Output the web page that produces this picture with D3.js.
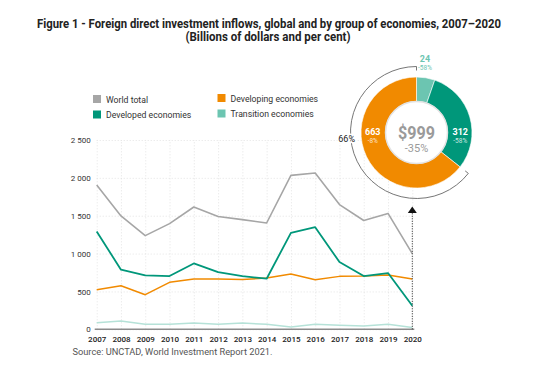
<!DOCTYPE html>
<html lang="en">
<head>
<meta charset="utf-8">
<title>FDI inflows 2007-2020</title>
<script src="https://d3js.org/d3.v7.min.js"></script>
<style>
  body { margin: 0; background: #fff; }
  text { font-family: Roboto, "Liberation Sans", sans-serif; }
</style>
</head>
<body>
<script>
// data (billions of dollars)
var years = [2007, 2008, 2009, 2010, 2011, 2012, 2013, 2014, 2015, 2016, 2017, 2018, 2019, 2020];
var worldTotal = [1906, 1497, 1237, 1396, 1615, 1490, 1449, 1404, 2033, 2065, 1647, 1437, 1530, 999];
var developed  = [1292, 787, 712, 703, 870, 756, 703, 668, 1274, 1349, 888, 703, 743, 312];
var developing = [523, 576, 457, 620, 663, 663, 659, 677, 729, 655, 699, 703, 716, 663];
var transition = [88, 110, 66, 66, 83, 66, 83, 66, 31, 66, 53, 44, 66, 24];
var yTicks = [0, 500, 1000, 1500, 2000, 2500];

// donut for 2020
var donutGroups = ["Transition economies", "Developed economies", "Developing economies"];
var donutValues = [24, 312, 663];
var donutChange = ["-58%", "-58%", "-8%"];
var totalLabel = "$999";
var totalChange = "-35%";
var developingShare = "66%";

var width = 554,
    height = 370;

var colors = {
  world: "#a6a6a6",
  developed: "#00977a",
  developing: "#f18a00",
  transition: "#6cc5b1",
  transitionLine: "#b6e2d8"
};

var svg = d3.select("body").append("svg")
    .attr("width", width)
    .attr("height", height);

// title
svg.append("text")
    .attr("x", 269).attr("y", 27.5)
    .attr("text-anchor", "middle")
    .attr("font-size", 12)
    .attr("font-weight", "bold")
    .attr("fill", "#222")
    .attr("textLength", 464)
    .attr("lengthAdjust", "spacingAndGlyphs")
    .text("Figure 1 - Foreign direct investment inflows, global and by group of economies, 2007\u20132020");
svg.append("text")
    .attr("x", 268).attr("y", 41)
    .attr("text-anchor", "middle")
    .attr("font-size", 12)
    .attr("font-weight", "bold")
    .attr("fill", "#222")
    .attr("textLength", 165)
    .attr("lengthAdjust", "spacingAndGlyphs")
    .text("(Billions of dollars and per cent)");

var x = d3.scaleLinear()
    .domain([2007, 2020])
    .range([96.7, 412.3]);

var y = d3.scaleLinear()
    .domain([0, 2500])
    .range([329.3, 140]);

var fmt = d3.formatLocale({ decimal: ".", thousands: " ", grouping: [3], currency: ["", ""] }).format(",");

// horizontal grid + y labels
var gy = svg.append("g")
    .attr("transform", "translate(" + x(2007) + ",0)")
    .call(d3.axisLeft(y)
      .tickValues(yTicks)
      .tickSize(-(x(2020) - x(2007)))
      .tickPadding(6)
      .tickFormat(fmt));
gy.select(".domain").remove();
gy.selectAll(".tick line")
    .attr("stroke", "#d9d9d9")
    .attr("stroke-width", 0.7)
    .attr("stroke-dasharray", "1,2");
gy.selectAll(".tick text")
    .attr("font-family", "Roboto, sans-serif")
    .attr("font-size", 8)
    .attr("fill", "#333");

// vertical grid + year labels
var gx = svg.append("g")
    .attr("transform", "translate(0," + y(0) + ")")
    .call(d3.axisBottom(x)
      .tickValues(years)
      .tickSize(-(y(0) - y(2500)))
      .tickPadding(7)
      .tickFormat(d3.format("d")));
gx.select(".domain").remove();
gx.selectAll(".tick line")
    .attr("stroke", "#d9d9d9")
    .attr("stroke-width", 0.7)
    .attr("stroke-dasharray", "1,2");
gx.selectAll(".tick text")
    .attr("font-family", "Roboto, sans-serif")
    .attr("font-size", 8)
    .attr("font-weight", "500")
    .attr("fill", "#222");

// zero baseline
svg.append("line")
    .attr("x1", x(2007) - 2).attr("x2", x(2020) + 2)
    .attr("y1", y(0)).attr("y2", y(0))
    .attr("stroke", "#8c8c8c")
    .attr("stroke-width", 1.6);

var line = d3.line()
    .x(function(d, i) { return x(years[i]); })
    .y(function(d) { return y(d); });

var series = [
  { values: transition, color: colors.transitionLine, w: 1.5 },
  { values: developing, color: colors.developing, w: 1.5 },
  { values: worldTotal, color: colors.world, w: 1.6 },
  { values: developed, color: colors.developed, w: 1.8 }
];

svg.append("g").selectAll("path")
    .data(series)
    .enter().append("path")
    .attr("d", function(d) { return line(d.values); })
    .attr("fill", "none")
    .attr("stroke", function(d) { return d.color; })
    .attr("stroke-width", function(d) { return d.w; })
    .attr("stroke-linejoin", "round");

// legend
var legend = [
  { label: "World total", color: colors.world, lx: 93, ly: 95 },
  { label: "Developed economies", color: colors.developed, lx: 93, ly: 110.5 },
  { label: "Developing economies", color: colors.developing, lx: 217.5, ly: 94 },
  { label: "Transition economies", color: colors.transition, lx: 217.5, ly: 109.5 }
];
var lg = svg.append("g").selectAll("g")
    .data(legend)
    .enter().append("g")
    .attr("transform", function(d) { return "translate(" + d.lx + "," + d.ly + ")"; });
lg.append("rect")
    .attr("width", 8).attr("height", 8)
    .attr("fill", function(d) { return d.color; });
lg.append("text")
    .attr("x", 13).attr("y", 7.5)
    .attr("font-size", 8.7)
    .attr("fill", "#333")
    .text(function(d) { return d.label; });

// donut
var cx = 416.5, cy = 132.5, rOuter = 55.5, rInner = 31, rBracket = 66;
var donutColors = [colors.transition, colors.developed, colors.developing];

// small slices get a minimum visible size, as in the original graphic
var minSlice = 55;
var pie = d3.pie().sort(null).value(function(d) { return Math.max(d, minSlice); });
var arcs = pie(donutValues);
var arc = d3.arc().innerRadius(rInner).outerRadius(rOuter);

var dg = svg.append("g").attr("transform", "translate(" + cx + "," + cy + ")");

// bracket round the developing slice
var devArc = arcs[2];
var bp = d3.path();
var a0 = devArc.startAngle - Math.PI / 2, a1 = devArc.endAngle - Math.PI / 2;
bp.moveTo((rBracket - 4) * Math.cos(a0), (rBracket - 4) * Math.sin(a0));
bp.lineTo(rBracket * Math.cos(a0), rBracket * Math.sin(a0));
bp.arc(0, 0, rBracket, a0, a1);
bp.lineTo((rBracket - 4) * Math.cos(a1), (rBracket - 4) * Math.sin(a1));
dg.append("path")
    .attr("d", bp.toString())
    .attr("fill", "none")
    .attr("stroke", "#666")
    .attr("stroke-width", 0.9);

dg.selectAll("path.slice")
    .data(arcs)
    .enter().append("path")
    .attr("class", "slice")
    .attr("d", arc)
    .attr("fill", function(d, i) { return donutColors[i]; })
    .attr("stroke", "#fff")
    .attr("stroke-width", 0.6);

dg.append("circle")
    .attr("r", rInner)
    .attr("fill", "#fff")
    .attr("stroke", "#e2e2e2")
    .attr("stroke-width", 1.5);

dg.append("text")
    .attr("y", 6)
    .attr("text-anchor", "middle")
    .attr("font-size", 18)
    .attr("font-weight", "bold")
    .attr("fill", "#9a9a9a")
    .attr("textLength", 37)
    .attr("lengthAdjust", "spacingAndGlyphs")
    .text(totalLabel);
dg.append("text")
    .attr("y", 19)
    .attr("text-anchor", "middle")
    .attr("font-size", 11)
    .attr("fill", "#9a9a9a")
    .text(totalChange);

// slice labels: developed on the right, developing on the left, transition above
var labelR = (rInner + rOuter) / 2 + 0.5;
[{ i: 1, dx: labelR }, { i: 2, dx: -labelR }].forEach(function(p) {
  dg.append("text")
      .attr("x", p.dx).attr("y", 2)
      .attr("text-anchor", "middle")
      .attr("font-size", 9)
      .attr("font-weight", "bold")
      .attr("fill", "#fff")
      .text(donutValues[p.i]);
  dg.append("text")
      .attr("x", p.dx).attr("y", 10)
      .attr("text-anchor", "middle")
      .attr("font-size", 6.5)
      .attr("fill", "#fff")
      .attr("fill-opacity", 0.8)
      .text(donutChange[p.i]);
});
dg.append("text")
    .attr("x", 8.5).attr("y", -71)
    .attr("text-anchor", "middle")
    .attr("font-size", 9)
    .attr("font-weight", "bold")
    .attr("fill", colors.transition)
    .text(donutValues[0]);
dg.append("text")
    .attr("x", 8.5).attr("y", -63)
    .attr("text-anchor", "middle")
    .attr("font-size", 6.5)
    .attr("fill", colors.transition)
    .text(donutChange[0]);

dg.append("text")
    .attr("x", -61.5).attr("y", 9.5)
    .attr("text-anchor", "end")
    .attr("font-size", 9)
    .attr("fill", "#222")
    .attr("stroke", "#fff")
    .attr("stroke-width", 3)
    .attr("paint-order", "stroke")
    .text(developingShare);

// dotted arrow from 2020 up to the donut
var arrowTop = cy + rBracket + 8;
svg.append("line")
    .attr("x1", x(2020)).attr("x2", x(2020))
    .attr("y1", y(0)).attr("y2", arrowTop + 5)
    .attr("stroke", "#222")
    .attr("stroke-width", 1)
    .attr("stroke-dasharray", "1,1.5");
svg.append("path")
    .attr("d", "M" + x(2020) + "," + arrowTop + "l-4.5,6.5h9z")
    .attr("fill", "#111");

// source
svg.append("text")
    .attr("x", 72.5).attr("y", 355)
    .attr("font-size", 9.3)
    .attr("fill", "#555")
    .attr("textLength", 200)
    .attr("lengthAdjust", "spacingAndGlyphs")
    .text("Source: UNCTAD, World Investment Report 2021.");
</script>
</body>
</html>
